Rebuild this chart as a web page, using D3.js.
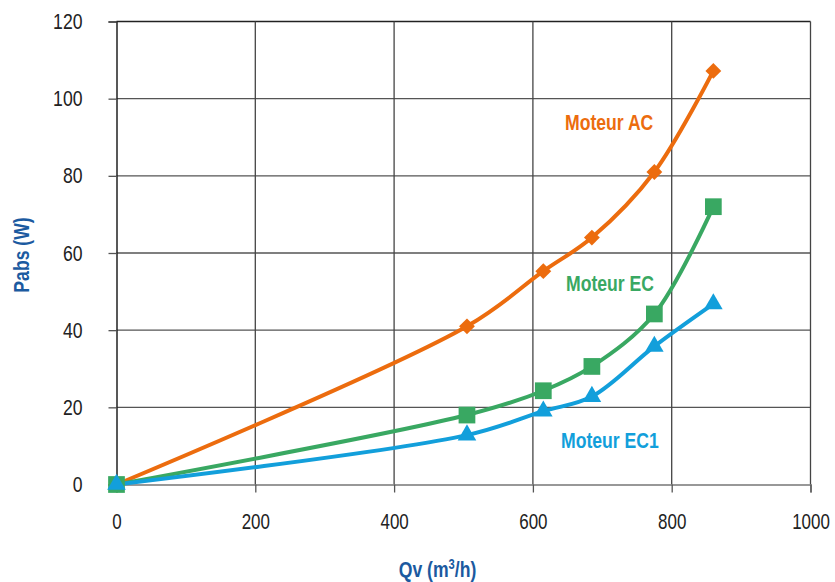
<!DOCTYPE html>
<html>
<head>
<meta charset="utf-8">
<script src="https://cdn.jsdelivr.net/npm/d3@7"></script>
<style>
  html, body { margin: 0; padding: 0; background: #fff; }
  svg { display: block; }
  text { font-family: "Liberation Sans", Arial, sans-serif; }
</style>
</head>
<body>
<svg id="chart" width="835" height="582"></svg>
<script>
// Débit d'air (m³/h) et puissance absorbée (W) par type de moteur
const qvAC  = [0, 505, 615, 685, 775, 860];
const pAC   = [0, 41, 55.3, 64, 81, 107.2];
const qvEC  = [0, 505, 615, 685, 775, 860];
const pEC   = [0, 18, 24.3, 30.6, 44.2, 72];
const qvEC1 = [0, 505, 615, 685, 775, 860];
const pEC1  = [0, 12.8, 19, 22.8, 35.8, 46.8];

const xTicks = [0, 200, 400, 600, 800, 1000];
const yTicks = [0, 20, 40, 60, 80, 100, 120];

const series = [
  { name: "Moteur AC",  x: qvAC,  y: pAC,  color: "#EC6C0E", symbol: d3.symbolDiamond2, size: 160, label: [565, 130] },
  { name: "Moteur EC",  x: qvEC,  y: pEC,  color: "#39A862", symbol: d3.symbolSquare,   size: 280, label: [566, 291] },
  { name: "Moteur EC1", x: qvEC1, y: pEC1, color: "#129FDB", symbol: d3.symbolTriangle, size: 150, label: [561, 448] }
];

// police étroite : on resserre horizontalement le texte
function condense(factor) {
  return sel => sel.each(function () {
    const w = this.getComputedTextLength();
    d3.select(this).attr("textLength", w * factor).attr("lengthAdjust", "spacingAndGlyphs");
  });
}

const svg = d3.select("#chart");
const x = d3.scaleLinear().domain([0, 1000]).range([116.5, 810.5]);
const y = d3.scaleLinear().domain([0, 120]).range([484.5, 21.5]);

// grille
const grid = svg.append("g");
grid.selectAll("line.h").data(yTicks.filter(d => d > 0)).join("line")
  .attr("x1", x(0)).attr("x2", x(1000))
  .attr("y1", d => y(d)).attr("y2", d => y(d))
  .attr("stroke", d => d === 120 ? "#222" : "#555").attr("stroke-width", 1.3);
grid.selectAll("line.v").data(xTicks.filter(d => d > 0)).join("line")
  .attr("x1", d => x(d)).attr("x2", d => x(d))
  .attr("y1", y(0)).attr("y2", y(120))
  .attr("stroke", "#444").attr("stroke-width", 1.3);

// axe X (libellés centrés, resserrés par une mise à l'échelle horizontale)
const xAxis = svg.append("g").attr("transform", `translate(0,${y(0)})`)
  .call(d3.axisBottom(x).tickValues(xTicks).tickSize(8).tickPadding(21).tickFormat(d3.format("d")));
xAxis.select(".domain").attr("stroke", "#777").attr("stroke-width", 1.5);
xAxis.selectAll(".tick line").attr("stroke", "#555").attr("stroke-width", 1.3);
xAxis.selectAll("text").attr("font-size", 22).attr("fill", "#222")
  .attr("transform", "scale(0.77,1)")
  .style("font-family", "'Liberation Sans', Arial, sans-serif");

// axe Y
const yAxis = svg.append("g").attr("transform", `translate(${x(0)},0)`)
  .call(d3.axisLeft(y).tickValues(yTicks).tickSize(8).tickPadding(26).tickFormat(d3.format("d")));
yAxis.select(".domain").attr("stroke", "#222").attr("stroke-width", 1.5);
yAxis.selectAll(".tick line").attr("stroke", "#555").attr("stroke-width", 1.3);
yAxis.selectAll("text").attr("font-size", 22).attr("fill", "#222")
  .style("font-family", "'Liberation Sans', Arial, sans-serif").call(condense(0.8));

// courbes lissées
const line = d3.line().curve(d3.curveCatmullRom.alpha(0.5));
series.forEach(s => {
  const pts = s.x.map((v, i) => [x(v), y(s.y[i])]);
  svg.append("path").attr("d", line(pts))
    .attr("fill", "none").attr("stroke", s.color).attr("stroke-width", 4);
});
// marqueurs
series.forEach(s => {
  svg.append("g").selectAll("path").data(s.x.map((v, i) => [v, s.y[i]])).join("path")
    .attr("d", d3.symbol().type(s.symbol).size(s.size))
    .attr("transform", d => `translate(${x(d[0])},${y(d[1])})`)
    .attr("fill", s.color);
});
// étiquettes des séries
series.forEach(s => {
  svg.append("text").attr("x", s.label[0]).attr("y", s.label[1])
    .attr("font-size", 22).attr("font-weight", "bold").attr("fill", s.color)
    .text(s.name).call(condense(0.8));
});

// titres d'axes
svg.append("text")
  .attr("transform", `translate(${x(500) - 26},577) scale(0.8,1)`)
  .attr("text-anchor", "middle").attr("font-size", 22).attr("font-weight", "bold")
  .attr("fill", "#1B5AA0")
  .html('Qv (m<tspan dy="-8" font-size="14">3</tspan><tspan dy="8">/h)</tspan>');
svg.append("text").attr("transform", "translate(29,255) rotate(-90)")
  .attr("text-anchor", "middle").attr("font-size", 22).attr("font-weight", "bold")
  .attr("fill", "#1B5AA0").text("Pabs (W)").call(condense(0.8));
</script>
</body>
</html>
